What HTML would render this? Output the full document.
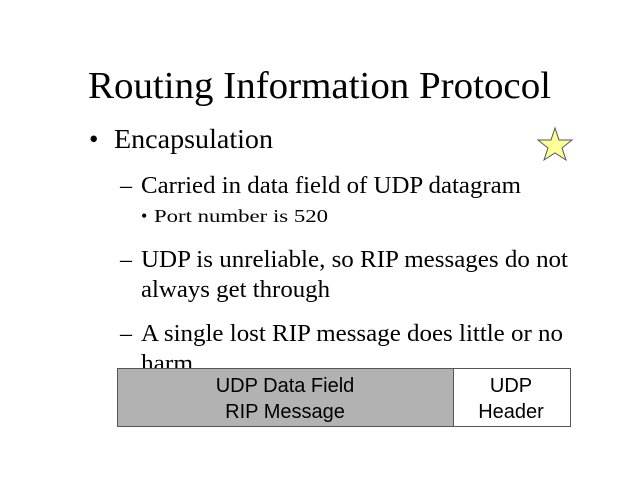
<!DOCTYPE html>
<html><head><style>html,body{margin:0;padding:0;background:#fff}svg{display:block}</style></head><body>
<svg width="640" height="480" viewBox="0 0 640 480" xmlns="http://www.w3.org/2000/svg" font-family="'Liberation Serif', serif" fill="#000">
<text x="88" y="98" font-size="38" textLength="463" lengthAdjust="spacingAndGlyphs">Routing Information Protocol</text>
<text x="89" y="148" font-size="27">•</text>
<text x="114" y="148" font-size="27" textLength="159" lengthAdjust="spacingAndGlyphs">Encapsulation</text>
<text x="120" y="193" font-size="24">–</text>
<text x="141" y="193" font-size="24" textLength="380" lengthAdjust="spacingAndGlyphs">Carried in data field of UDP datagram</text>
<text x="141" y="222" font-size="18">•</text>
<text x="154" y="222" font-size="18" textLength="174" lengthAdjust="spacingAndGlyphs">Port number is 520</text>
<text x="120" y="267" font-size="24">–</text>
<text x="141" y="267" font-size="24" textLength="427" lengthAdjust="spacingAndGlyphs">UDP is unreliable, so RIP messages do not</text>
<text x="141" y="297" font-size="24" textLength="189" lengthAdjust="spacingAndGlyphs">always get through</text>
<text x="120" y="341" font-size="24">–</text>
<text x="141" y="341" font-size="24" textLength="422" lengthAdjust="spacingAndGlyphs">A single lost RIP message does little or no</text>
<text x="141" y="371" font-size="24" textLength="52" lengthAdjust="spacingAndGlyphs">harm</text>
<polygon points="555,128 559,140 572,140 562,148 566,160 555,153 544,160 548,148 538,140 551,140" fill="#ffff99" stroke="#555" stroke-width="1"/>
<rect x="117.5" y="368.5" width="336" height="58" fill="#b2b2b2" stroke="#555"/>
<rect x="453.5" y="368.5" width="117" height="58" fill="#fff" stroke="#555"/>
<g font-family="'Liberation Sans', sans-serif" font-size="20" text-anchor="middle">
<text x="285" y="392">UDP Data Field</text>
<text x="285" y="418">RIP Message</text>
<text x="511" y="392">UDP</text>
<text x="511" y="418">Header</text>
</g>
</svg>
</body></html>
